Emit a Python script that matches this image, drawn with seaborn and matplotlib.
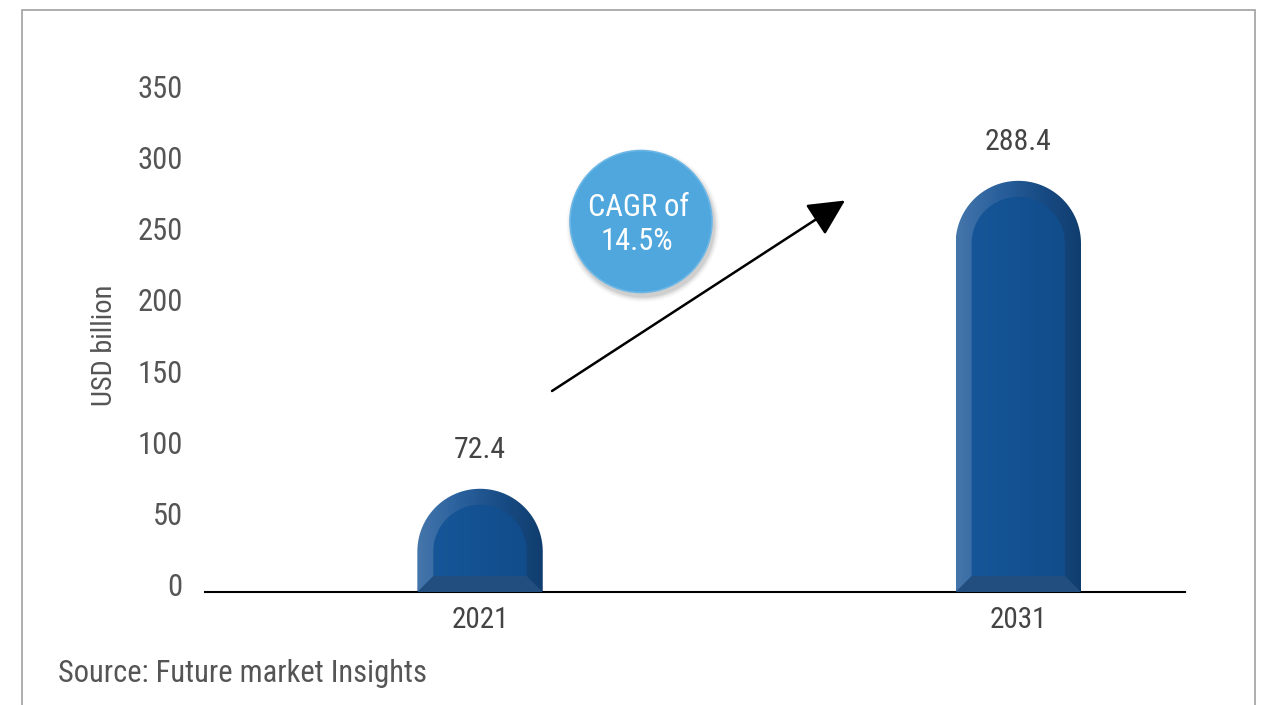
import numpy as np
import matplotlib
matplotlib.use("Agg")
import matplotlib.pyplot as plt
import seaborn as sns
import pandas as pd
from matplotlib.path import Path
from matplotlib.patches import PathPatch, Polygon, Circle, Rectangle
from matplotlib import transforms as mtransforms
from matplotlib.colors import to_rgb

# ---- data ----
years = ["2021", "2031"]
market_size = [72.4, 288.4]
y_ticks = [0, 50, 100, 150, 200, 250, 300, 350]
cagr_lines = ["CAGR of", "14.5%"]
y_title = "USD billion"
source_text = "Source: Future market Insights"

sns.set_theme(style="white")
plt.rcParams["font.family"] = ["Roboto Condensed", "DejaVu Sans Condensed",
                               "Liberation Sans Narrow", "Roboto", "DejaVu Sans"]
plt.rcParams["font.stretch"] = "condensed"

W, H = 1261, 705
fig = plt.figure(figsize=(W / 100, H / 100), dpi=100)
fig.patch.set_facecolor("white")
# pixel coordinates, origin at bottom-left
px = mtransforms.Affine2D().scale(1 / 100) + fig.dpi_scale_trans

ax = fig.add_axes([205 / W, 1 - 592 / H, (1185 - 205) / W, (592 - 93) / H])
df = pd.DataFrame({"year": years, "value": market_size})
sns.barplot(data=df, x="year", y="value", color="#14528f", width=0.233,
            saturation=1, ax=ax)
bars = list(ax.patches)

XLIM = (-0.511, 1.3097)
YLIM = (0, 350)
ax.set_xlim(*XLIM)
ax.set_ylim(*YLIM)

# ---- axes styling ----
for s in ("left", "top", "right"):
    ax.spines[s].set_visible(False)
ax.spines["bottom"].set_color("black")
ax.spines["bottom"].set_linewidth(1.5)
ax.set_xlabel("")
ax.set_ylabel("")
ax.set_yticks(y_ticks)
ax.set_yticklabels([str(t) for t in y_ticks])
ax.tick_params(axis="y", length=0, pad=16, labelsize=22, labelcolor="#555555")
ax.tick_params(axis="x", length=0, pad=10, labelsize=21, labelcolor="#444444")
lift = mtransforms.ScaledTranslation(0, 7 / 100, fig.dpi_scale_trans)
for lab in ax.get_yticklabels():
    lab.set_transform(lab.get_transform() + lift)

# ---- bevelled bars with rounded tops ----
p0 = ax.transData.transform((0, 0))
sx = ax.transData.transform((1, 0))[0] - p0[0]   # pixels per x unit
sy = ax.transData.transform((0, 1))[1] - p0[1]   # pixels per y unit


def dome(x0, x1, base, cy, rx, ry, n=80):
    xc = (x0 + x1) / 2
    t = np.linspace(0, np.pi, n)
    verts = [(x0, base), (x1, base), (x1, cy)]
    verts += list(zip(xc + rx * np.cos(t), cy + ry * np.sin(t)))
    verts += [(x0, cy), (x0, base)]
    codes = [Path.MOVETO] + [Path.LINETO] * (len(verts) - 2) + [Path.CLOSEPOLY]
    return Path(verts, codes)


def hgrad(colors, n=256):
    cols = np.array([to_rgb(c) for c in colors])
    pos = np.linspace(0, 1, len(cols))
    u = np.linspace(0, 1, n)
    img = np.stack([np.interp(u, pos, cols[:, k]) for k in range(3)], axis=-1)
    return img[np.newaxis, :, :]


rim = 16  # bevel width in pixels
for bar in bars:
    bar.set_visible(False)
    x0 = bar.get_x()
    w = bar.get_width()
    h = bar.get_height()
    x1 = x0 + w
    rx = w / 2
    ry = rx * sx / sy
    cy = h - ry
    dx = rim / sx
    dy = rim / sy

    outer = dome(x0, x1, 0, cy, rx, ry)
    clip = PathPatch(outer, facecolor="none", edgecolor="none")
    ax.add_patch(clip)
    im = ax.imshow(hgrad(["#4576ab", "#2a619d", "#184c85", "#103d6e"]),
                   extent=[x0, x1, 0, h], aspect="auto", zorder=2,
                   interpolation="bilinear")
    im.set_clip_path(clip)

    inner = dome(x0 + dx, x1 - dx, dy, cy, rx - dx, ry - dy)
    clip2 = PathPatch(inner, facecolor="none", edgecolor="none")
    ax.add_patch(clip2)
    im2 = ax.imshow(hgrad(["#175799", "#135192", "#114a88"]),
                    extent=[x0, x1, 0, h], aspect="auto", zorder=3,
                    interpolation="bilinear")
    im2.set_clip_path(clip2)

    ax.add_patch(Polygon([(x0, 0), (x1, 0), (x1 - dx, dy), (x0 + dx, dy)],
                         closed=True, facecolor="#214e7f", edgecolor="none",
                         zorder=4))

    ax.annotate(f"{h:.1f}", (x0 + w / 2, h), xytext=(0, 18),
                textcoords="offset points", ha="center", va="bottom",
                fontsize=21.5, color="#444444")

ax.set_xlim(*XLIM)
ax.set_ylim(*YLIM)

# ---- CAGR badge ----
cxp, cyp, rp = 641, H - 221.5, 71
for i, a in enumerate(np.linspace(0.10, 0.02, 6)):
    fig.add_artist(Circle((cxp + 2, cyp - 4), rp + 1 + i, transform=px,
                          facecolor="#000000", alpha=a * 0.5,
                          edgecolor="none", zorder=5))
fig.add_artist(Circle((cxp, cyp), rp, transform=px, facecolor="#4fa7de",
                      edgecolor="#6cb7e6", linewidth=1.2, zorder=6))
fig.text(cxp - 2, H - 207, cagr_lines[0], transform=px, ha="center",
         va="center", fontsize=22, color="white", zorder=7)
fig.text(cxp - 4, H - 241, cagr_lines[1], transform=px, ha="center",
         va="center", fontsize=22, color="white", zorder=7)

# ---- growth arrow ----
ax.annotate("", xy=(845, H - 200.5), xycoords=px,
            xytext=(552, H - 391), textcoords=px,
            arrowprops=dict(arrowstyle="-|>,head_length=1.5,head_width=0.75",
                            mutation_scale=15, lw=1.8, color="black",
                            shrinkA=0, shrinkB=0),
            annotation_clip=False)

# ---- titles & frame ----
fig.text(105, H - 345, y_title, transform=px, rotation=90, ha="center",
         va="center", fontsize=20.5, color="#555555")
fig.text(58, H - 673, source_text, transform=px, ha="left", va="center",
         fontsize=22, color="#555555")
fig.add_artist(Rectangle((22, -10), 1255 - 22, H - 10 + 10, transform=px,
                         fill=False, edgecolor="#a0a0a0", linewidth=1.2))

fig.savefig("out.png", dpi=100, facecolor="white")
